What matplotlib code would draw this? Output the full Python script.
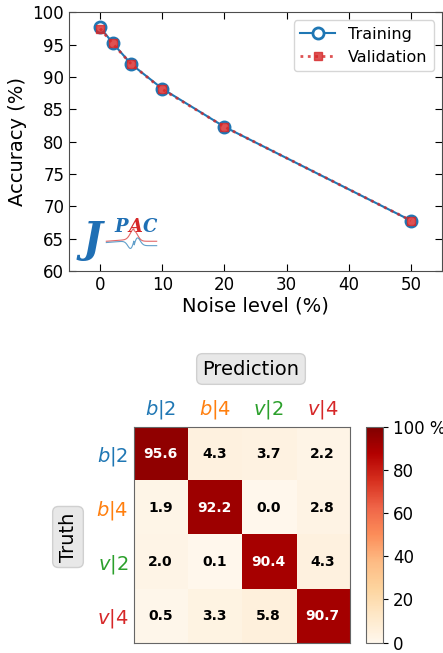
import numpy as np
import matplotlib
matplotlib.use("Agg")
import matplotlib.pyplot as plt

# data
noise = [0, 2, 5, 10, 20, 50]
acc_train = [97.7, 95.3, 92.0, 88.2, 82.3, 67.8]
acc_valid = [97.5, 95.2, 92.0, 88.1, 82.3, 67.8]

classes = ["$b|2$", "$b|4$", "$v|2$", "$v|4$"]
class_colors = ["tab:blue", "tab:orange", "tab:green", "tab:red"]
conf = np.array([
    [95.6, 4.3, 3.7, 2.2],
    [1.9, 92.2, 0.0, 2.8],
    [2.0, 0.1, 90.4, 4.3],
    [0.5, 3.3, 5.8, 90.7],
])

fig = plt.figure(figsize=(4.43, 6.53), dpi=100)

# === top panel: accuracy vs noise ===
ax = fig.add_axes([0.1558, 0.585, 0.842, 0.396])
ax.plot(noise, acc_train, "-o", color="tab:blue", lw=1.5, ms=8,
        mfc="white", mew=2, label="Training")
ax.plot(noise, acc_valid, ":s", color="#d62728", alpha=0.8, lw=2, ms=6,
        label="Validation")
ax.set_xlim(-5, 55)
ax.set_ylim(60, 100)
ax.set_xticks([0, 10, 20, 30, 40, 50])
ax.set_yticks(range(60, 101, 5))
ax.tick_params(direction="in", top=True, right=True, labelsize=12, length=5)
for s in ax.spines.values():
    s.set_color("0.3")
ax.set_xlabel("Noise level (%)", fontsize=14, labelpad=2)
ax.set_ylabel("Accuracy (%)", fontsize=14, labelpad=4)
ax.legend(loc="upper right", fontsize=11.5, handlelength=2.2)

# JPAC logo (approximate)
logo = dict(transform=ax.transAxes, family="DejaVu Serif", style="italic",
            weight="bold", va="baseline", ha="left")
ax.text(0.035, 0.075, "J", fontsize=30, color="#1f6fb4", **logo)
ax.text(0.122, 0.152, "P", fontsize=13, color="#1f6fb4", **logo)
ax.text(0.158, 0.152, "A", fontsize=13, color="#d62728", **logo)
ax.text(0.197, 0.152, "C", fontsize=13, color="#1f6fb4", **logo)
t = np.linspace(0, 1, 120)
peak = np.exp(-((t - 0.55) / 0.1) ** 2)
bx = 0.10 + 0.135 * t
ax.plot(bx, 0.115 + 0.04 * peak + 0.015 * t * (t < 0.55), transform=ax.transAxes,
        color="#d62728", lw=0.8, alpha=0.7)
disp = -np.gradient(peak) / np.abs(np.gradient(peak)).max()
ax.plot(bx, 0.11 + 0.03 * disp + 0.015 * t * (t < 0.55) - 0.012 * (t >= 0.55),
        transform=ax.transAxes, color="tab:blue", lw=0.8, alpha=0.7)

# === bottom panel: confusion matrix ===
axm = fig.add_axes([0.301, 0.0158, 0.489, 0.331])
cax = fig.add_axes([0.8255, 0.0158, 0.0397, 0.331])
im = axm.imshow(conf, cmap="OrRd", vmin=0, vmax=100)
for i in range(4):
    for j in range(4):
        v = conf[i, j]
        axm.text(j, i, f"{v:.1f}", ha="center", va="center", fontsize=10,
                 weight="bold", color="white" if v > 50 else "black")
axm.set_xticks(range(4))
axm.set_yticks(range(4))
axm.set_xticklabels(classes, fontsize=14)
axm.set_yticklabels(classes, fontsize=14)
axm.xaxis.tick_top()
axm.tick_params(length=0, pad=4)
for lbl, c in zip(axm.get_xticklabels(), class_colors):
    lbl.set_color(c)
for lbl, c in zip(axm.get_yticklabels(), class_colors):
    lbl.set_color(c)
for s in axm.spines.values():
    s.set_color("0.4")

box = dict(boxstyle="round,pad=0.3", fc="#e8e8e8", ec="#d0d0d0")
fig.text(251 / 443, 1 - 369 / 653, "Prediction", fontsize=14, ha="center",
         va="center", bbox=box)
fig.text(68 / 443, 1 - 537 / 653, "Truth", fontsize=14, ha="center",
         va="center", rotation=90, bbox=box)

cb = fig.colorbar(im, cax=cax, ticks=[0, 20, 40, 60, 80, 100])
cb.ax.set_yticklabels(["0", "20", "40", "60", "80", "100 %"])
cb.ax.tick_params(labelsize=12)
cb.outline.set_edgecolor("0.4")

fig.savefig("out.png", dpi=100)
